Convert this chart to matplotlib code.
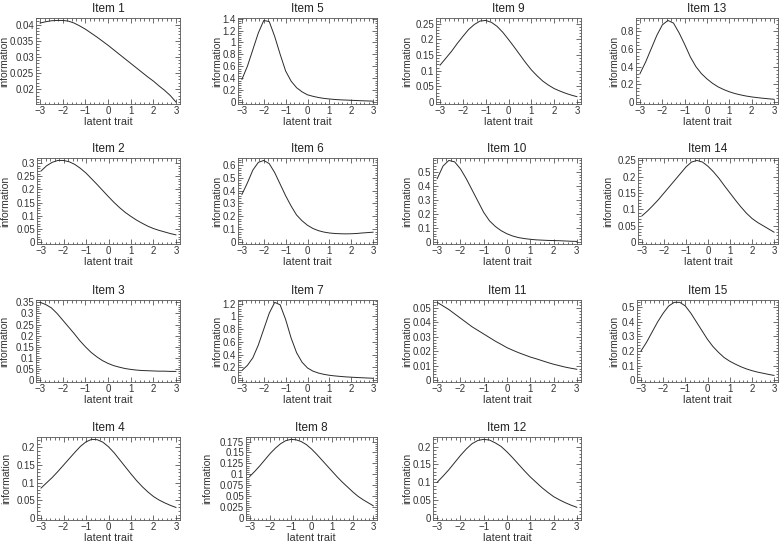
import matplotlib
matplotlib.use("Agg")
from matplotlib import pyplot as plt
from matplotlib.ticker import MultipleLocator

plt.rcParams["font.family"] = ["Liberation Sans", "DejaVu Sans"]

theta = [-3, -2.75, -2.5, -2.25, -2, -1.75, -1.5, -1.25, -1, -0.75, -0.5, -0.25, 0,
         0.25, 0.5, 0.75, 1, 1.25, 1.5, 1.75, 2, 2.25, 2.5, 2.75, 3]

item1 = [0.0405, 0.0409, 0.0412, 0.0413, 0.0413, 0.0411, 0.0405, 0.0396, 0.0386, 0.0374, 0.0362, 0.0349, 0.0336,
         0.0322, 0.0308, 0.0294, 0.0280, 0.0266, 0.0252, 0.0238, 0.0225, 0.0210, 0.0196, 0.0180, 0.0160]
item2 = [0.27, 0.29, 0.303, 0.31, 0.31, 0.305, 0.295, 0.28, 0.262, 0.24, 0.218, 0.195, 0.172,
         0.15, 0.13, 0.112, 0.097, 0.083, 0.071, 0.06, 0.051, 0.044, 0.038, 0.032, 0.027]
item3 = [0.35, 0.34, 0.325, 0.3, 0.27, 0.24, 0.21, 0.178, 0.15, 0.125, 0.105, 0.088, 0.075,
         0.065, 0.058, 0.052, 0.048, 0.045, 0.043, 0.042, 0.041, 0.04, 0.04, 0.039, 0.039]
item4 = [0.085, 0.1, 0.115, 0.132, 0.15, 0.168, 0.186, 0.203, 0.216, 0.223, 0.222, 0.215, 0.202,
         0.185, 0.165, 0.145, 0.125, 0.106, 0.089, 0.074, 0.061, 0.051, 0.043, 0.036, 0.03]
item5 = [0.38, 0.6, 0.88, 1.16, 1.37, 1.35, 1.1, 0.8, 0.52, 0.35, 0.24, 0.17, 0.12,
         0.095, 0.075, 0.06, 0.05, 0.042, 0.036, 0.032, 0.028, 0.024, 0.02, 0.017, 0.014]
item6 = [0.37, 0.46, 0.56, 0.62, 0.635, 0.61, 0.54, 0.45, 0.36, 0.28, 0.21, 0.165, 0.13,
         0.105, 0.088, 0.077, 0.07, 0.066, 0.064, 0.063, 0.064, 0.066, 0.07, 0.073, 0.076]
item7 = [0.15, 0.23, 0.35, 0.55, 0.8, 1.05, 1.22, 1.18, 0.95, 0.66, 0.43, 0.28, 0.19,
         0.14, 0.11, 0.09, 0.075, 0.065, 0.057, 0.05, 0.045, 0.04, 0.036, 0.032, 0.028]
item8 = [0.095, 0.107, 0.12, 0.134, 0.148, 0.16, 0.17, 0.177, 0.18, 0.179, 0.175, 0.168, 0.158,
         0.146, 0.133, 0.12, 0.107, 0.094, 0.082, 0.071, 0.06, 0.05, 0.042, 0.035, 0.028]
item9 = [0.118, 0.14, 0.162, 0.187, 0.21, 0.232, 0.248, 0.259, 0.261, 0.255, 0.242, 0.223, 0.2,
         0.176, 0.151, 0.126, 0.103, 0.084, 0.067, 0.054, 0.043, 0.035, 0.028, 0.022, 0.017]
item10 = [0.45, 0.54, 0.58, 0.57, 0.52, 0.45, 0.37, 0.29, 0.21, 0.15, 0.11, 0.08, 0.058,
          0.042, 0.031, 0.024, 0.019, 0.015, 0.013, 0.011, 0.01, 0.009, 0.007, 0.005, 0.004]
item11 = [0.054, 0.0515, 0.049, 0.046, 0.043, 0.040, 0.037, 0.0345, 0.032, 0.0295, 0.027, 0.0248, 0.0225,
          0.0207, 0.019, 0.0175, 0.016, 0.0148, 0.0135, 0.0122, 0.011, 0.010, 0.009, 0.0082, 0.0075]
item12 = [0.1, 0.117, 0.135, 0.155, 0.175, 0.193, 0.208, 0.217, 0.22, 0.218, 0.21, 0.2, 0.185,
          0.168, 0.15, 0.132, 0.115, 0.1, 0.085, 0.072, 0.06, 0.051, 0.043, 0.036, 0.03]
item13 = [0.32, 0.45, 0.6, 0.75, 0.87, 0.92, 0.89, 0.78, 0.65, 0.51, 0.4, 0.32, 0.26,
          0.21, 0.17, 0.14, 0.115, 0.095, 0.08, 0.067, 0.057, 0.049, 0.042, 0.036, 0.03]
item14 = [0.08, 0.095, 0.112, 0.13, 0.15, 0.17, 0.19, 0.21, 0.23, 0.245, 0.25, 0.245, 0.232,
          0.215, 0.195, 0.172, 0.15, 0.128, 0.107, 0.088, 0.072, 0.06, 0.05, 0.04, 0.03]
item15 = [0.2, 0.26, 0.33, 0.4, 0.46, 0.51, 0.535, 0.535, 0.51, 0.46, 0.4, 0.34, 0.28,
          0.23, 0.19, 0.155, 0.13, 0.11, 0.092, 0.077, 0.065, 0.055, 0.047, 0.039, 0.032]

items = [item1, item2, item3, item4, item5, item6, item7, item8,
         item9, item10, item11, item12, item13, item14, item15]
# major y tick step per item
ysteps = [0.005, 0.05, 0.05, 0.05, 0.2, 0.1, 0.2, 0.025,
          0.05, 0.1, 0.01, 0.05, 0.2, 0.05, 0.1]

W, H = 781, 544
# left edge, right edge and ylabel position of each panel (pixels)
lefts = [36, 37, 36, 37, 238, 238, 238, 246, 436, 433, 433, 433, 636, 638, 637]
rights = [180, 377, 581, 778]
rows = [(18, 104), (158, 244), (300, 382), (437, 520)]
ylab_px = [9, 10, 9, 11, 222, 222, 222, 212, 412, 412, 412, 412, 619, 613, 619]

fig = plt.figure(figsize=(W / 100, H / 100), dpi=100)

for i, y in enumerate(items):
    c, r = i // 4, i % 4
    x0, x1 = lefts[i], rights[c]
    y0, y1 = rows[r]
    ax = fig.add_axes([x0 / W, 1 - y1 / H, (x1 - x0) / W, (y1 - y0) / H])
    ax.plot(theta, y, color="#2a2a2a", lw=0.7)
    lo, hi = min(y), max(y)
    if i != 0:
        lo = 0
    ax.set_ylim(lo - (hi - lo) * 0.025, hi + (hi - lo) * 0.03)
    ax.set_xlim(-3.18, 3.18)
    ax.xaxis.set_major_locator(MultipleLocator(1))
    ax.xaxis.set_minor_locator(MultipleLocator(0.2))
    ax.yaxis.set_major_locator(MultipleLocator(ysteps[i]))
    ax.yaxis.set_minor_locator(MultipleLocator(ysteps[i] / 5))
    ax.yaxis.set_major_formatter(plt.FuncFormatter(lambda v, p: f"{round(v, 4):g}"))
    ax.xaxis.set_major_formatter(plt.FuncFormatter(lambda v, p: f"{v:g}".replace("-", "\u2212")))
    ax.tick_params(which="both", direction="in", top=True, right=True,
                   labelsize=7, colors="#333333", width=0.5, pad=1.5)
    ax.tick_params(which="major", length=3.5)
    ax.tick_params(which="minor", length=1.8)
    for s in ax.spines.values():
        s.set_linewidth(0.6)
        s.set_color("#555555")
    ax.set_title(f"Item {i + 1}", fontsize=8.5, pad=4, color="#222222")
    ax.set_xlabel("latent trait", fontsize=7.8, labelpad=1, color="#333333")
    ax.set_ylabel("information", fontsize=7.5, color="#333333")
    ax.yaxis.set_label_coords((ylab_px[i] - x0) / (x1 - x0), 0.5)

fig.savefig("out.png", dpi=100)
